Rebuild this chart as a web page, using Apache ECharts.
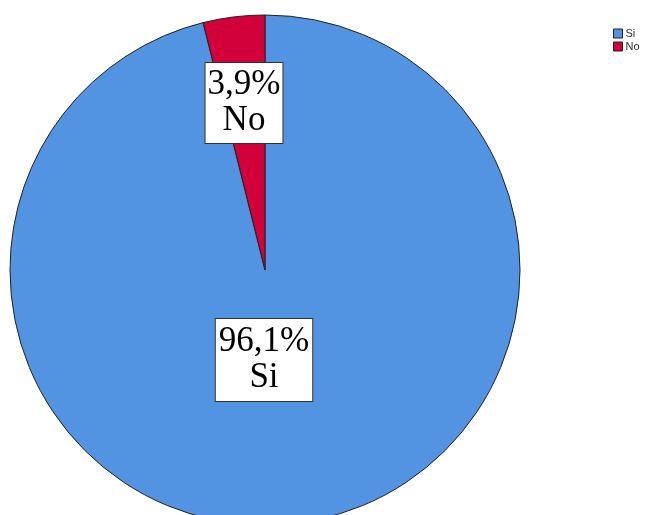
<!DOCTYPE html>
<html><head><meta charset="utf-8">
<script src="https://cdn.jsdelivr.net/npm/echarts@6/dist/echarts.min.js"></script>
<style>html,body{margin:0;padding:0;background:#fff}#c{width:648px;height:515px}</style>
</head><body><div id="c"></div>
<script>
const categories = ['Si', 'No'];
const percents = [96.1, 3.9];
const percentLabels = ['96,1%', '3,9%'];
const colors = ['#5294E2', '#D2003A'];

const labelPos = [[264, 360], [244, 103]];
const labelPad = [[5, 3], [4, 2]];

const chart = echarts.init(document.getElementById('c'), null, {renderer: 'canvas'});
chart.setOption({
  animation: false,
  backgroundColor: '#ffffff',
  legend: {
    orient: 'vertical', left: 613, top: 28, padding: 0,
    itemWidth: 9, itemHeight: 9, itemGap: 2,
    icon: 'rect',
    itemStyle: {borderColor: '#222', borderWidth: 1},
    textStyle: {fontFamily: 'Liberation Sans, Arial, sans-serif', fontSize: 11, color: '#333', padding: [0, 0, 0, -2]},
    data: categories
  },
  series: [{
    type: 'pie',
    center: [265, 270],
    radius: 255,
    startAngle: 90,
    clockwise: true,
    label: {
      show: true, position: 'inside',
      fontFamily: 'Liberation Serif, Times New Roman, serif',
      fontSize: 35, lineHeight: 36, color: '#000',
      backgroundColor: '#fff', borderColor: '#333', borderWidth: 1,
      formatter: p => percentLabels[p.dataIndex] + '\n' + p.name
    },
    labelLine: {show: false},
    labelLayout: p => ({x: labelPos[p.dataIndex][0], y: labelPos[p.dataIndex][1], align: 'center', verticalAlign: 'middle'}),
    emphasis: {disabled: true},
    itemStyle: {borderColor: '#222', borderWidth: 1},
    data: categories.map((c, i) => ({
      name: c, value: percents[i],
      itemStyle: {color: colors[i]},
      label: {padding: labelPad[i]}
    }))
  }]
});
</script></body></html>
